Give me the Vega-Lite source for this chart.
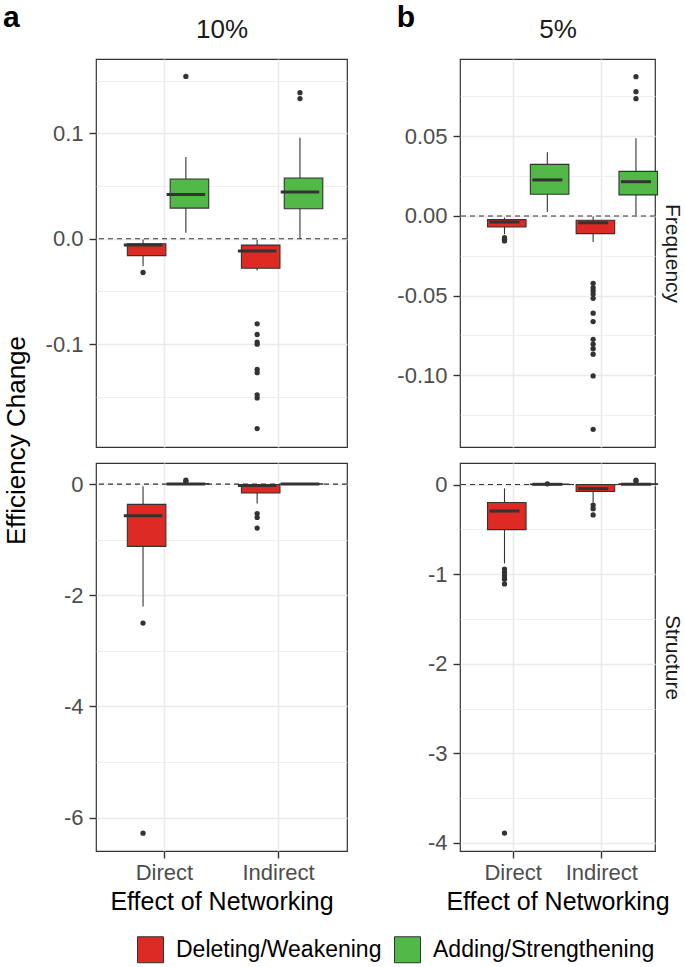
{
  "$schema": "https://vega.github.io/schema/vega-lite/v6.json",
  "background": "white",
  "padding": 2,
  "datasets": {
    "boxes": [
      {"pct": "10%", "metric": "Frequency", "effect": "Direct", "action": "Deleting/Weakening", "lo": -0.026, "q1": -0.016, "med": -0.006, "q3": -0.0047, "hi": -0.0006},
      {"pct": "10%", "metric": "Frequency", "effect": "Direct", "action": "Adding/Strengthening", "lo": 0.0057, "q1": 0.0291, "med": 0.042, "q3": 0.0567, "hi": 0.0775},
      {"pct": "10%", "metric": "Frequency", "effect": "Indirect", "action": "Deleting/Weakening", "lo": -0.03, "q1": -0.028, "med": -0.0117, "q3": -0.006, "hi": -0.001},
      {"pct": "10%", "metric": "Frequency", "effect": "Indirect", "action": "Adding/Strengthening", "lo": 0.0, "q1": 0.0285, "med": 0.0443, "q3": 0.0576, "hi": 0.0959},
      {"pct": "5%", "metric": "Frequency", "effect": "Direct", "action": "Deleting/Weakening", "lo": -0.0115, "q1": -0.0069, "med": -0.0038, "q3": -0.0023, "hi": -0.001},
      {"pct": "5%", "metric": "Frequency", "effect": "Direct", "action": "Adding/Strengthening", "lo": 0.0025, "q1": 0.0136, "med": 0.0226, "q3": 0.0324, "hi": 0.04},
      {"pct": "5%", "metric": "Frequency", "effect": "Indirect", "action": "Deleting/Weakening", "lo": -0.0163, "q1": -0.0111, "med": -0.0042, "q3": -0.0027, "hi": -0.0004},
      {"pct": "5%", "metric": "Frequency", "effect": "Indirect", "action": "Adding/Strengthening", "lo": 0.0004, "q1": 0.0132, "med": 0.0215, "q3": 0.028, "hi": 0.0487},
      {"pct": "10%", "metric": "Structure", "effect": "Direct", "action": "Deleting/Weakening", "lo": -2.2, "q1": -1.12, "med": -0.569, "q3": -0.365, "hi": -0.04},
      {"pct": "10%", "metric": "Structure", "effect": "Direct", "action": "Adding/Strengthening", "lo": 0.0, "q1": 0.0, "med": 0.003, "q3": 0.01, "hi": 0.02},
      {"pct": "10%", "metric": "Structure", "effect": "Indirect", "action": "Deleting/Weakening", "lo": -0.35, "q1": -0.16, "med": -0.024, "q3": -0.006, "hi": 0.0},
      {"pct": "10%", "metric": "Structure", "effect": "Indirect", "action": "Adding/Strengthening", "lo": 0.0, "q1": 0.0, "med": 0.002, "q3": 0.006, "hi": 0.01},
      {"pct": "5%", "metric": "Structure", "effect": "Direct", "action": "Deleting/Weakening", "lo": -0.88, "q1": -0.504, "med": -0.296, "q3": -0.2, "hi": -0.044},
      {"pct": "5%", "metric": "Structure", "effect": "Direct", "action": "Adding/Strengthening", "lo": 0.0, "q1": 0.0, "med": 0.002, "q3": 0.005, "hi": 0.01},
      {"pct": "5%", "metric": "Structure", "effect": "Indirect", "action": "Deleting/Weakening", "lo": -0.2, "q1": -0.078, "med": -0.048, "q3": 0.0, "hi": 0.0},
      {"pct": "5%", "metric": "Structure", "effect": "Indirect", "action": "Adding/Strengthening", "lo": 0.0, "q1": 0.0, "med": 0.003, "q3": 0.008, "hi": 0.015}
    ],
    "outliers": [
      {"pct": "10%", "metric": "Frequency", "effect": "Direct", "action": "Deleting/Weakening", "value": -0.032},
      {"pct": "10%", "metric": "Frequency", "effect": "Direct", "action": "Adding/Strengthening", "value": 0.154},
      {"pct": "10%", "metric": "Frequency", "effect": "Indirect", "action": "Deleting/Weakening", "value": -0.0807},
      {"pct": "10%", "metric": "Frequency", "effect": "Indirect", "action": "Deleting/Weakening", "value": -0.0908},
      {"pct": "10%", "metric": "Frequency", "effect": "Indirect", "action": "Deleting/Weakening", "value": -0.098},
      {"pct": "10%", "metric": "Frequency", "effect": "Indirect", "action": "Deleting/Weakening", "value": -0.1},
      {"pct": "10%", "metric": "Frequency", "effect": "Indirect", "action": "Deleting/Weakening", "value": -0.124},
      {"pct": "10%", "metric": "Frequency", "effect": "Indirect", "action": "Deleting/Weakening", "value": -0.127},
      {"pct": "10%", "metric": "Frequency", "effect": "Indirect", "action": "Deleting/Weakening", "value": -0.148},
      {"pct": "10%", "metric": "Frequency", "effect": "Indirect", "action": "Deleting/Weakening", "value": -0.151},
      {"pct": "10%", "metric": "Frequency", "effect": "Indirect", "action": "Deleting/Weakening", "value": -0.18},
      {"pct": "10%", "metric": "Frequency", "effect": "Indirect", "action": "Adding/Strengthening", "value": 0.1386},
      {"pct": "10%", "metric": "Frequency", "effect": "Indirect", "action": "Adding/Strengthening", "value": 0.133},
      {"pct": "5%", "metric": "Frequency", "effect": "Direct", "action": "Deleting/Weakening", "value": -0.0136},
      {"pct": "5%", "metric": "Frequency", "effect": "Direct", "action": "Deleting/Weakening", "value": -0.0146},
      {"pct": "5%", "metric": "Frequency", "effect": "Direct", "action": "Deleting/Weakening", "value": -0.0157},
      {"pct": "5%", "metric": "Frequency", "effect": "Indirect", "action": "Deleting/Weakening", "value": -0.0423},
      {"pct": "5%", "metric": "Frequency", "effect": "Indirect", "action": "Deleting/Weakening", "value": -0.045},
      {"pct": "5%", "metric": "Frequency", "effect": "Indirect", "action": "Deleting/Weakening", "value": -0.047},
      {"pct": "5%", "metric": "Frequency", "effect": "Indirect", "action": "Deleting/Weakening", "value": -0.049},
      {"pct": "5%", "metric": "Frequency", "effect": "Indirect", "action": "Deleting/Weakening", "value": -0.0517},
      {"pct": "5%", "metric": "Frequency", "effect": "Indirect", "action": "Deleting/Weakening", "value": -0.061},
      {"pct": "5%", "metric": "Frequency", "effect": "Indirect", "action": "Deleting/Weakening", "value": -0.0663},
      {"pct": "5%", "metric": "Frequency", "effect": "Indirect", "action": "Deleting/Weakening", "value": -0.0774},
      {"pct": "5%", "metric": "Frequency", "effect": "Indirect", "action": "Deleting/Weakening", "value": -0.0805},
      {"pct": "5%", "metric": "Frequency", "effect": "Indirect", "action": "Deleting/Weakening", "value": -0.0833},
      {"pct": "5%", "metric": "Frequency", "effect": "Indirect", "action": "Deleting/Weakening", "value": -0.0868},
      {"pct": "5%", "metric": "Frequency", "effect": "Indirect", "action": "Deleting/Weakening", "value": -0.1004},
      {"pct": "5%", "metric": "Frequency", "effect": "Indirect", "action": "Deleting/Weakening", "value": -0.1339},
      {"pct": "5%", "metric": "Frequency", "effect": "Indirect", "action": "Adding/Strengthening", "value": 0.0874},
      {"pct": "5%", "metric": "Frequency", "effect": "Indirect", "action": "Adding/Strengthening", "value": 0.078},
      {"pct": "5%", "metric": "Frequency", "effect": "Indirect", "action": "Adding/Strengthening", "value": 0.0736},
      {"pct": "10%", "metric": "Structure", "effect": "Direct", "action": "Deleting/Weakening", "value": -2.5},
      {"pct": "10%", "metric": "Structure", "effect": "Direct", "action": "Deleting/Weakening", "value": -6.28},
      {"pct": "10%", "metric": "Structure", "effect": "Direct", "action": "Adding/Strengthening", "value": 0.07},
      {"pct": "10%", "metric": "Structure", "effect": "Direct", "action": "Adding/Strengthening", "value": 0.045},
      {"pct": "10%", "metric": "Structure", "effect": "Indirect", "action": "Deleting/Weakening", "value": -0.53},
      {"pct": "10%", "metric": "Structure", "effect": "Indirect", "action": "Deleting/Weakening", "value": -0.6},
      {"pct": "10%", "metric": "Structure", "effect": "Indirect", "action": "Deleting/Weakening", "value": -0.79},
      {"pct": "5%", "metric": "Structure", "effect": "Direct", "action": "Deleting/Weakening", "value": -0.944},
      {"pct": "5%", "metric": "Structure", "effect": "Direct", "action": "Deleting/Weakening", "value": -0.981},
      {"pct": "5%", "metric": "Structure", "effect": "Direct", "action": "Deleting/Weakening", "value": -1.02},
      {"pct": "5%", "metric": "Structure", "effect": "Direct", "action": "Deleting/Weakening", "value": -1.056},
      {"pct": "5%", "metric": "Structure", "effect": "Direct", "action": "Deleting/Weakening", "value": -1.11},
      {"pct": "5%", "metric": "Structure", "effect": "Direct", "action": "Deleting/Weakening", "value": -3.89},
      {"pct": "5%", "metric": "Structure", "effect": "Direct", "action": "Adding/Strengthening", "value": 0.008},
      {"pct": "5%", "metric": "Structure", "effect": "Indirect", "action": "Deleting/Weakening", "value": -0.23},
      {"pct": "5%", "metric": "Structure", "effect": "Indirect", "action": "Deleting/Weakening", "value": -0.27},
      {"pct": "5%", "metric": "Structure", "effect": "Indirect", "action": "Deleting/Weakening", "value": -0.34},
      {"pct": "5%", "metric": "Structure", "effect": "Indirect", "action": "Adding/Strengthening", "value": 0.05},
      {"pct": "5%", "metric": "Structure", "effect": "Indirect", "action": "Adding/Strengthening", "value": 0.035}
    ]
  },
  "columns": 2,
  "bounds": "flush",
  "spacing": {"row": 16, "column": 113},
  "concat": [
    {
      "width": 251, "height": 388,
      "title": {"text": "a", "anchor": "start", "frame": "bounds", "fontSize": 30, "fontWeight": "bold", "color": "#000000", "dy": 17, "offset": 0},
      "layer": [
        {"data": {"values": [{}]}, "mark": {"type": "rule", "color": "#333333", "strokeDash": [5, 4], "strokeWidth": 1.1},
         "encoding": {"y": {"datum": 0, "type": "quantitative", "scale": {"domain": [-0.1975, 0.1705], "nice": false, "zero": false}, "axis": null}}},
        {"data": {"name": "boxes"}, "transform": [{"filter": "datum.pct == '10%' && datum.metric == 'Frequency'"}],
         "mark": {"type": "rule", "color": "#333333", "strokeWidth": 1.1},
         "encoding": {
           "x": {"field": "effect", "type": "nominal", "scale": {"domain": ["Direct", "Indirect"], "paddingInner": 0, "paddingOuter": 0.1}, "axis": {"orient": "top", "title": "10%", "labels": false, "ticks": false, "domain": false, "grid": true, "bandPosition": 0.5, "titleFontSize": 26, "titleFontWeight": "normal", "titleColor": "#1A1A1A", "titlePadding": 17}},
           "xOffset": {"field": "action", "type": "nominal", "scale": {"domain": ["Deleting/Weakening", "Adding/Strengthening"], "paddingInner": 0, "paddingOuter": 0.332}},
           "y": {"field": "lo", "type": "quantitative", "scale": {"domain": [-0.1975, 0.1705], "nice": false, "zero": false},
             "axis": {"orient": "right", "values": [-0.15, -0.05, 0.05, 0.15], "grid": true, "gridWidth": 0.8, "labels": false, "ticks": false, "domain": false, "title": null}},
           "y2": {"field": "hi"}}},
        {"data": {"name": "boxes"}, "transform": [{"filter": "datum.pct == '10%' && datum.metric == 'Frequency'"}],
         "mark": {"type": "bar", "stroke": "#333333", "strokeWidth": 1.1, "width": {"band": 0.9}},
         "encoding": {
           "x": {"field": "effect", "type": "nominal", "scale": {"domain": ["Direct", "Indirect"], "paddingInner": 0, "paddingOuter": 0.1}, "axis": {"orient": "top", "title": "10%", "labels": false, "ticks": false, "domain": false, "grid": true, "bandPosition": 0.5, "titleFontSize": 26, "titleFontWeight": "normal", "titleColor": "#1A1A1A", "titlePadding": 17}},
           "xOffset": {"field": "action", "type": "nominal", "scale": {"domain": ["Deleting/Weakening", "Adding/Strengthening"], "paddingInner": 0, "paddingOuter": 0.332}},
           "y": {"field": "q1", "type": "quantitative", "scale": {"domain": [-0.1975, 0.1705], "nice": false, "zero": false},
             "axis": {"orient": "left", "values": [-0.1, 0, 0.1], "labelExpr": "replace(format(datum.value, '.1f'), '\u2212', '-')", "grid": true,
               "title": "Efficiency Change", "titleX": -67, "titleY": 381, "titleAngle": -90, "titleFontSize": 26, "titleAlign": "center", "titleBaseline": "bottom", "titleFontWeight": "normal", "titleColor": "#000000"}},
           "y2": {"field": "q3"},
           "fill": {"field": "action", "type": "nominal", "scale": {"domain": ["Deleting/Weakening", "Adding/Strengthening"], "range": ["#DD2A24", "#52B848"]},
             "legend": {"title": null, "orient": "none", "direction": "horizontal", "legendX": 41, "legendY": 877}}}},
        {"data": {"name": "boxes"}, "transform": [{"filter": "datum.pct == '10%' && datum.metric == 'Frequency'"}],
         "mark": {"type": "tick", "color": "#333333", "thickness": 3, "size": 38.5, "opacity": 1},
         "encoding": {
           "x": {"field": "effect", "type": "nominal", "scale": {"domain": ["Direct", "Indirect"], "paddingInner": 0, "paddingOuter": 0.1}, "axis": {"orient": "top", "title": "10%", "labels": false, "ticks": false, "domain": false, "grid": true, "bandPosition": 0.5, "titleFontSize": 26, "titleFontWeight": "normal", "titleColor": "#1A1A1A", "titlePadding": 17}},
           "xOffset": {"field": "action", "type": "nominal", "scale": {"domain": ["Deleting/Weakening", "Adding/Strengthening"], "paddingInner": 0, "paddingOuter": 0.332}},
           "y": {"field": "med", "type": "quantitative", "scale": {"domain": [-0.1975, 0.1705], "nice": false, "zero": false}, "axis": null}}},
        {"data": {"name": "outliers"}, "transform": [{"filter": "datum.pct == '10%' && datum.metric == 'Frequency'"}],
         "mark": {"type": "circle", "color": "#333333", "size": 28, "opacity": 1},
         "encoding": {
           "x": {"field": "effect", "type": "nominal", "scale": {"domain": ["Direct", "Indirect"], "paddingInner": 0, "paddingOuter": 0.1}, "axis": {"orient": "top", "title": "10%", "labels": false, "ticks": false, "domain": false, "grid": true, "bandPosition": 0.5, "titleFontSize": 26, "titleFontWeight": "normal", "titleColor": "#1A1A1A", "titlePadding": 17}},
           "xOffset": {"field": "action", "type": "nominal", "scale": {"domain": ["Deleting/Weakening", "Adding/Strengthening"], "paddingInner": 0, "paddingOuter": 0.332}},
           "y": {"field": "value", "type": "quantitative", "scale": {"domain": [-0.1975, 0.1705], "nice": false, "zero": false}, "axis": null}}}
      ],
      "resolve": {"axis": {"y": "independent"}}
    },
    {
      "width": 195, "height": 388,
      "title": {"text": "b", "anchor": "start", "frame": "bounds", "fontSize": 30, "fontWeight": "bold", "color": "#000000", "dy": 17, "offset": 0},
      "layer": [
        {"data": {"values": [{}]}, "mark": {"type": "rule", "color": "#333333", "strokeDash": [5, 4], "strokeWidth": 1.1},
         "encoding": {"y": {"datum": 0, "type": "quantitative", "scale": {"domain": [-0.145, 0.0985], "nice": false, "zero": false}, "axis": null}}},
        {"data": {"name": "boxes"}, "transform": [{"filter": "datum.pct == '5%' && datum.metric == 'Frequency'"}],
         "mark": {"type": "rule", "color": "#333333", "strokeWidth": 1.1},
         "encoding": {
           "x": {"field": "effect", "type": "nominal", "scale": {"domain": ["Direct", "Indirect"], "paddingInner": 0, "paddingOuter": 0.1}, "axis": {"orient": "top", "title": "5%", "labels": false, "ticks": false, "domain": false, "grid": true, "bandPosition": 0.5, "titleFontSize": 26, "titleFontWeight": "normal", "titleColor": "#1A1A1A", "titlePadding": 17}},
           "xOffset": {"field": "action", "type": "nominal", "scale": {"domain": ["Deleting/Weakening", "Adding/Strengthening"], "paddingInner": 0, "paddingOuter": 0.332}},
           "y": {"field": "lo", "type": "quantitative", "scale": {"domain": [-0.145, 0.0985], "nice": false, "zero": false},
             "axis": {"orient": "right", "values": [-0.125, -0.075, -0.025, 0.025, 0.075], "grid": true, "gridWidth": 0.8, "labels": false, "ticks": false, "domain": false,
               "title": "Frequency", "titleAngle": 90, "titleFontSize": 21, "titleFontWeight": "normal", "titleColor": "#1A1A1A", "titlePadding": 6}},
           "y2": {"field": "hi"}}},
        {"data": {"name": "boxes"}, "transform": [{"filter": "datum.pct == '5%' && datum.metric == 'Frequency'"}],
         "mark": {"type": "bar", "stroke": "#333333", "strokeWidth": 1.1, "width": {"band": 0.9}},
         "encoding": {
           "x": {"field": "effect", "type": "nominal", "scale": {"domain": ["Direct", "Indirect"], "paddingInner": 0, "paddingOuter": 0.1}, "axis": {"orient": "top", "title": "5%", "labels": false, "ticks": false, "domain": false, "grid": true, "bandPosition": 0.5, "titleFontSize": 26, "titleFontWeight": "normal", "titleColor": "#1A1A1A", "titlePadding": 17}},
           "xOffset": {"field": "action", "type": "nominal", "scale": {"domain": ["Deleting/Weakening", "Adding/Strengthening"], "paddingInner": 0, "paddingOuter": 0.332}},
           "y": {"field": "q1", "type": "quantitative", "scale": {"domain": [-0.145, 0.0985], "nice": false, "zero": false},
             "axis": {"orient": "left", "values": [-0.1, -0.05, 0, 0.05], "labelExpr": "replace(format(datum.value, '.2f'), '\u2212', '-')", "grid": true, "title": null}},
           "y2": {"field": "q3"},
           "fill": {"field": "action", "type": "nominal", "scale": {"domain": ["Deleting/Weakening", "Adding/Strengthening"], "range": ["#DD2A24", "#52B848"]},
             "legend": {"title": null, "orient": "none", "direction": "horizontal", "legendX": 41, "legendY": 877}}}},
        {"data": {"name": "boxes"}, "transform": [{"filter": "datum.pct == '5%' && datum.metric == 'Frequency'"}],
         "mark": {"type": "tick", "color": "#333333", "thickness": 3, "size": 30, "opacity": 1},
         "encoding": {
           "x": {"field": "effect", "type": "nominal", "scale": {"domain": ["Direct", "Indirect"], "paddingInner": 0, "paddingOuter": 0.1}, "axis": {"orient": "top", "title": "5%", "labels": false, "ticks": false, "domain": false, "grid": true, "bandPosition": 0.5, "titleFontSize": 26, "titleFontWeight": "normal", "titleColor": "#1A1A1A", "titlePadding": 17}},
           "xOffset": {"field": "action", "type": "nominal", "scale": {"domain": ["Deleting/Weakening", "Adding/Strengthening"], "paddingInner": 0, "paddingOuter": 0.332}},
           "y": {"field": "med", "type": "quantitative", "scale": {"domain": [-0.145, 0.0985], "nice": false, "zero": false}, "axis": null}}},
        {"data": {"name": "outliers"}, "transform": [{"filter": "datum.pct == '5%' && datum.metric == 'Frequency'"}],
         "mark": {"type": "circle", "color": "#333333", "size": 28, "opacity": 1},
         "encoding": {
           "x": {"field": "effect", "type": "nominal", "scale": {"domain": ["Direct", "Indirect"], "paddingInner": 0, "paddingOuter": 0.1}, "axis": {"orient": "top", "title": "5%", "labels": false, "ticks": false, "domain": false, "grid": true, "bandPosition": 0.5, "titleFontSize": 26, "titleFontWeight": "normal", "titleColor": "#1A1A1A", "titlePadding": 17}},
           "xOffset": {"field": "action", "type": "nominal", "scale": {"domain": ["Deleting/Weakening", "Adding/Strengthening"], "paddingInner": 0, "paddingOuter": 0.332}},
           "y": {"field": "value", "type": "quantitative", "scale": {"domain": [-0.145, 0.0985], "nice": false, "zero": false}, "axis": null}}}
      ],
      "resolve": {"axis": {"y": "independent"}}
    },
    {
      "width": 251, "height": 388,
      "layer": [
        {"data": {"values": [{}]}, "mark": {"type": "rule", "color": "#333333", "strokeDash": [5, 4], "strokeWidth": 1.1},
         "encoding": {"y": {"datum": 0, "type": "quantitative", "scale": {"domain": [-6.6, 0.38], "nice": false, "zero": false}, "axis": null}}},
        {"data": {"name": "boxes"}, "transform": [{"filter": "datum.pct == '10%' && datum.metric == 'Structure'"}],
         "mark": {"type": "rule", "color": "#333333", "strokeWidth": 1.1},
         "encoding": {
           "x": {"field": "effect", "type": "nominal", "scale": {"domain": ["Direct", "Indirect"], "paddingInner": 0, "paddingOuter": 0.1}, "axis": {"orient": "bottom", "title": "Effect of Networking", "labelAngle": 0, "labelFontSize": 22, "labelColor": "#4D4D4D", "labelPadding": 4, "ticks": true, "tickSize": 7, "tickColor": "#333333", "tickWidth": 1.4, "domain": false, "grid": true, "bandPosition": 0.5, "titleFontSize": 25, "titleFontWeight": "normal", "titleColor": "#000000", "titlePadding": 6}},
           "xOffset": {"field": "action", "type": "nominal", "scale": {"domain": ["Deleting/Weakening", "Adding/Strengthening"], "paddingInner": 0, "paddingOuter": 0.332}},
           "y": {"field": "lo", "type": "quantitative", "scale": {"domain": [-6.6, 0.38], "nice": false, "zero": false},
             "axis": {"orient": "right", "values": [-5, -3, -1], "grid": true, "gridWidth": 0.8, "labels": false, "ticks": false, "domain": false, "title": null}},
           "y2": {"field": "hi"}}},
        {"data": {"name": "boxes"}, "transform": [{"filter": "datum.pct == '10%' && datum.metric == 'Structure'"}],
         "mark": {"type": "bar", "stroke": "#333333", "strokeWidth": 1.1, "width": {"band": 0.9}},
         "encoding": {
           "x": {"field": "effect", "type": "nominal", "scale": {"domain": ["Direct", "Indirect"], "paddingInner": 0, "paddingOuter": 0.1}, "axis": {"orient": "bottom", "title": "Effect of Networking", "labelAngle": 0, "labelFontSize": 22, "labelColor": "#4D4D4D", "labelPadding": 4, "ticks": true, "tickSize": 7, "tickColor": "#333333", "tickWidth": 1.4, "domain": false, "grid": true, "bandPosition": 0.5, "titleFontSize": 25, "titleFontWeight": "normal", "titleColor": "#000000", "titlePadding": 6}},
           "xOffset": {"field": "action", "type": "nominal", "scale": {"domain": ["Deleting/Weakening", "Adding/Strengthening"], "paddingInner": 0, "paddingOuter": 0.332}},
           "y": {"field": "q1", "type": "quantitative", "scale": {"domain": [-6.6, 0.38], "nice": false, "zero": false},
             "axis": {"orient": "left", "values": [-6, -4, -2, 0], "labelExpr": "replace(format(datum.value, 'd'), '\u2212', '-')", "grid": true, "title": null}},
           "y2": {"field": "q3"},
           "fill": {"field": "action", "type": "nominal", "scale": {"domain": ["Deleting/Weakening", "Adding/Strengthening"], "range": ["#DD2A24", "#52B848"]},
             "legend": {"title": null, "orient": "none", "direction": "horizontal", "legendX": 41, "legendY": 877}}}},
        {"data": {"name": "boxes"}, "transform": [{"filter": "datum.pct == '10%' && datum.metric == 'Structure'"}],
         "mark": {"type": "tick", "color": "#333333", "thickness": 3, "size": 38.5, "opacity": 1},
         "encoding": {
           "x": {"field": "effect", "type": "nominal", "scale": {"domain": ["Direct", "Indirect"], "paddingInner": 0, "paddingOuter": 0.1}, "axis": {"orient": "bottom", "title": "Effect of Networking", "labelAngle": 0, "labelFontSize": 22, "labelColor": "#4D4D4D", "labelPadding": 4, "ticks": true, "tickSize": 7, "tickColor": "#333333", "tickWidth": 1.4, "domain": false, "grid": true, "bandPosition": 0.5, "titleFontSize": 25, "titleFontWeight": "normal", "titleColor": "#000000", "titlePadding": 6}},
           "xOffset": {"field": "action", "type": "nominal", "scale": {"domain": ["Deleting/Weakening", "Adding/Strengthening"], "paddingInner": 0, "paddingOuter": 0.332}},
           "y": {"field": "med", "type": "quantitative", "scale": {"domain": [-6.6, 0.38], "nice": false, "zero": false}, "axis": null}}},
        {"data": {"name": "outliers"}, "transform": [{"filter": "datum.pct == '10%' && datum.metric == 'Structure'"}],
         "mark": {"type": "circle", "color": "#333333", "size": 28, "opacity": 1},
         "encoding": {
           "x": {"field": "effect", "type": "nominal", "scale": {"domain": ["Direct", "Indirect"], "paddingInner": 0, "paddingOuter": 0.1}, "axis": {"orient": "bottom", "title": "Effect of Networking", "labelAngle": 0, "labelFontSize": 22, "labelColor": "#4D4D4D", "labelPadding": 4, "ticks": true, "tickSize": 7, "tickColor": "#333333", "tickWidth": 1.4, "domain": false, "grid": true, "bandPosition": 0.5, "titleFontSize": 25, "titleFontWeight": "normal", "titleColor": "#000000", "titlePadding": 6}},
           "xOffset": {"field": "action", "type": "nominal", "scale": {"domain": ["Deleting/Weakening", "Adding/Strengthening"], "paddingInner": 0, "paddingOuter": 0.332}},
           "y": {"field": "value", "type": "quantitative", "scale": {"domain": [-6.6, 0.38], "nice": false, "zero": false}, "axis": null}}}
      ],
      "resolve": {"axis": {"y": "independent"}}
    },
    {
      "width": 195, "height": 388,
      "layer": [
        {"data": {"values": [{}]}, "mark": {"type": "rule", "color": "#333333", "strokeDash": [5, 4], "strokeWidth": 1.1},
         "encoding": {"y": {"datum": 0, "type": "quantitative", "scale": {"domain": [-4.09, 0.24], "nice": false, "zero": false}, "axis": null}}},
        {"data": {"name": "boxes"}, "transform": [{"filter": "datum.pct == '5%' && datum.metric == 'Structure'"}],
         "mark": {"type": "rule", "color": "#333333", "strokeWidth": 1.1},
         "encoding": {
           "x": {"field": "effect", "type": "nominal", "scale": {"domain": ["Direct", "Indirect"], "paddingInner": 0, "paddingOuter": 0.1}, "axis": {"orient": "bottom", "title": "Effect of Networking", "labelAngle": 0, "labelFontSize": 22, "labelColor": "#4D4D4D", "labelPadding": 4, "ticks": true, "tickSize": 7, "tickColor": "#333333", "tickWidth": 1.4, "domain": false, "grid": true, "bandPosition": 0.5, "titleFontSize": 25, "titleFontWeight": "normal", "titleColor": "#000000", "titlePadding": 6}},
           "xOffset": {"field": "action", "type": "nominal", "scale": {"domain": ["Deleting/Weakening", "Adding/Strengthening"], "paddingInner": 0, "paddingOuter": 0.332}},
           "y": {"field": "lo", "type": "quantitative", "scale": {"domain": [-4.09, 0.24], "nice": false, "zero": false},
             "axis": {"orient": "right", "values": [-3.5, -2.5, -1.5, -0.5], "grid": true, "gridWidth": 0.8, "labels": false, "ticks": false, "domain": false,
               "title": "Structure", "titleAngle": 90, "titleFontSize": 21, "titleFontWeight": "normal", "titleColor": "#1A1A1A", "titlePadding": 6}},
           "y2": {"field": "hi"}}},
        {"data": {"name": "boxes"}, "transform": [{"filter": "datum.pct == '5%' && datum.metric == 'Structure'"}],
         "mark": {"type": "bar", "stroke": "#333333", "strokeWidth": 1.1, "width": {"band": 0.9}},
         "encoding": {
           "x": {"field": "effect", "type": "nominal", "scale": {"domain": ["Direct", "Indirect"], "paddingInner": 0, "paddingOuter": 0.1}, "axis": {"orient": "bottom", "title": "Effect of Networking", "labelAngle": 0, "labelFontSize": 22, "labelColor": "#4D4D4D", "labelPadding": 4, "ticks": true, "tickSize": 7, "tickColor": "#333333", "tickWidth": 1.4, "domain": false, "grid": true, "bandPosition": 0.5, "titleFontSize": 25, "titleFontWeight": "normal", "titleColor": "#000000", "titlePadding": 6}},
           "xOffset": {"field": "action", "type": "nominal", "scale": {"domain": ["Deleting/Weakening", "Adding/Strengthening"], "paddingInner": 0, "paddingOuter": 0.332}},
           "y": {"field": "q1", "type": "quantitative", "scale": {"domain": [-4.09, 0.24], "nice": false, "zero": false},
             "axis": {"orient": "left", "values": [-4, -3, -2, -1, 0], "labelExpr": "replace(format(datum.value, 'd'), '\u2212', '-')", "grid": true, "title": null}},
           "y2": {"field": "q3"},
           "fill": {"field": "action", "type": "nominal", "scale": {"domain": ["Deleting/Weakening", "Adding/Strengthening"], "range": ["#DD2A24", "#52B848"]},
             "legend": {"title": null, "orient": "none", "direction": "horizontal", "legendX": 41, "legendY": 877}}}},
        {"data": {"name": "boxes"}, "transform": [{"filter": "datum.pct == '5%' && datum.metric == 'Structure'"}],
         "mark": {"type": "tick", "color": "#333333", "thickness": 3, "size": 30, "opacity": 1},
         "encoding": {
           "x": {"field": "effect", "type": "nominal", "scale": {"domain": ["Direct", "Indirect"], "paddingInner": 0, "paddingOuter": 0.1}, "axis": {"orient": "bottom", "title": "Effect of Networking", "labelAngle": 0, "labelFontSize": 22, "labelColor": "#4D4D4D", "labelPadding": 4, "ticks": true, "tickSize": 7, "tickColor": "#333333", "tickWidth": 1.4, "domain": false, "grid": true, "bandPosition": 0.5, "titleFontSize": 25, "titleFontWeight": "normal", "titleColor": "#000000", "titlePadding": 6}},
           "xOffset": {"field": "action", "type": "nominal", "scale": {"domain": ["Deleting/Weakening", "Adding/Strengthening"], "paddingInner": 0, "paddingOuter": 0.332}},
           "y": {"field": "med", "type": "quantitative", "scale": {"domain": [-4.09, 0.24], "nice": false, "zero": false}, "axis": null}}},
        {"data": {"name": "outliers"}, "transform": [{"filter": "datum.pct == '5%' && datum.metric == 'Structure'"}],
         "mark": {"type": "circle", "color": "#333333", "size": 28, "opacity": 1},
         "encoding": {
           "x": {"field": "effect", "type": "nominal", "scale": {"domain": ["Direct", "Indirect"], "paddingInner": 0, "paddingOuter": 0.1}, "axis": {"orient": "bottom", "title": "Effect of Networking", "labelAngle": 0, "labelFontSize": 22, "labelColor": "#4D4D4D", "labelPadding": 4, "ticks": true, "tickSize": 7, "tickColor": "#333333", "tickWidth": 1.4, "domain": false, "grid": true, "bandPosition": 0.5, "titleFontSize": 25, "titleFontWeight": "normal", "titleColor": "#000000", "titlePadding": 6}},
           "xOffset": {"field": "action", "type": "nominal", "scale": {"domain": ["Deleting/Weakening", "Adding/Strengthening"], "paddingInner": 0, "paddingOuter": 0.332}},
           "y": {"field": "value", "type": "quantitative", "scale": {"domain": [-4.09, 0.24], "nice": false, "zero": false}, "axis": null}}}
      ],
      "resolve": {"axis": {"y": "independent"}}
    }
  ],
  "config": {
    "font": "Liberation Sans",
    "view": {"stroke": "#333333", "strokeWidth": 1.2},
    "axis": {
      "labelFont": "Liberation Sans", "titleFont": "Liberation Sans",
      "labelFontSize": 22, "labelColor": "#4D4D4D", "labelPadding": 6,
      "tickSize": 7, "tickColor": "#333333", "tickWidth": 1.4,
      "domain": false, "gridColor": "#EBEBEB", "gridWidth": 1.6
    },
    "legend": {
      "labelFont": "Liberation Sans", "labelFontSize": 23, "labelColor": "#000000", "labelLimit": 400,
      "symbolType": "square", "symbolSize": 676, "symbolStrokeColor": "#333333", "symbolStrokeWidth": 1,
      "symbolOpacity": 1, "labelOffset": 12, "columnPadding": 10
    },
    "title": {"font": "Liberation Sans"}
  }
}
